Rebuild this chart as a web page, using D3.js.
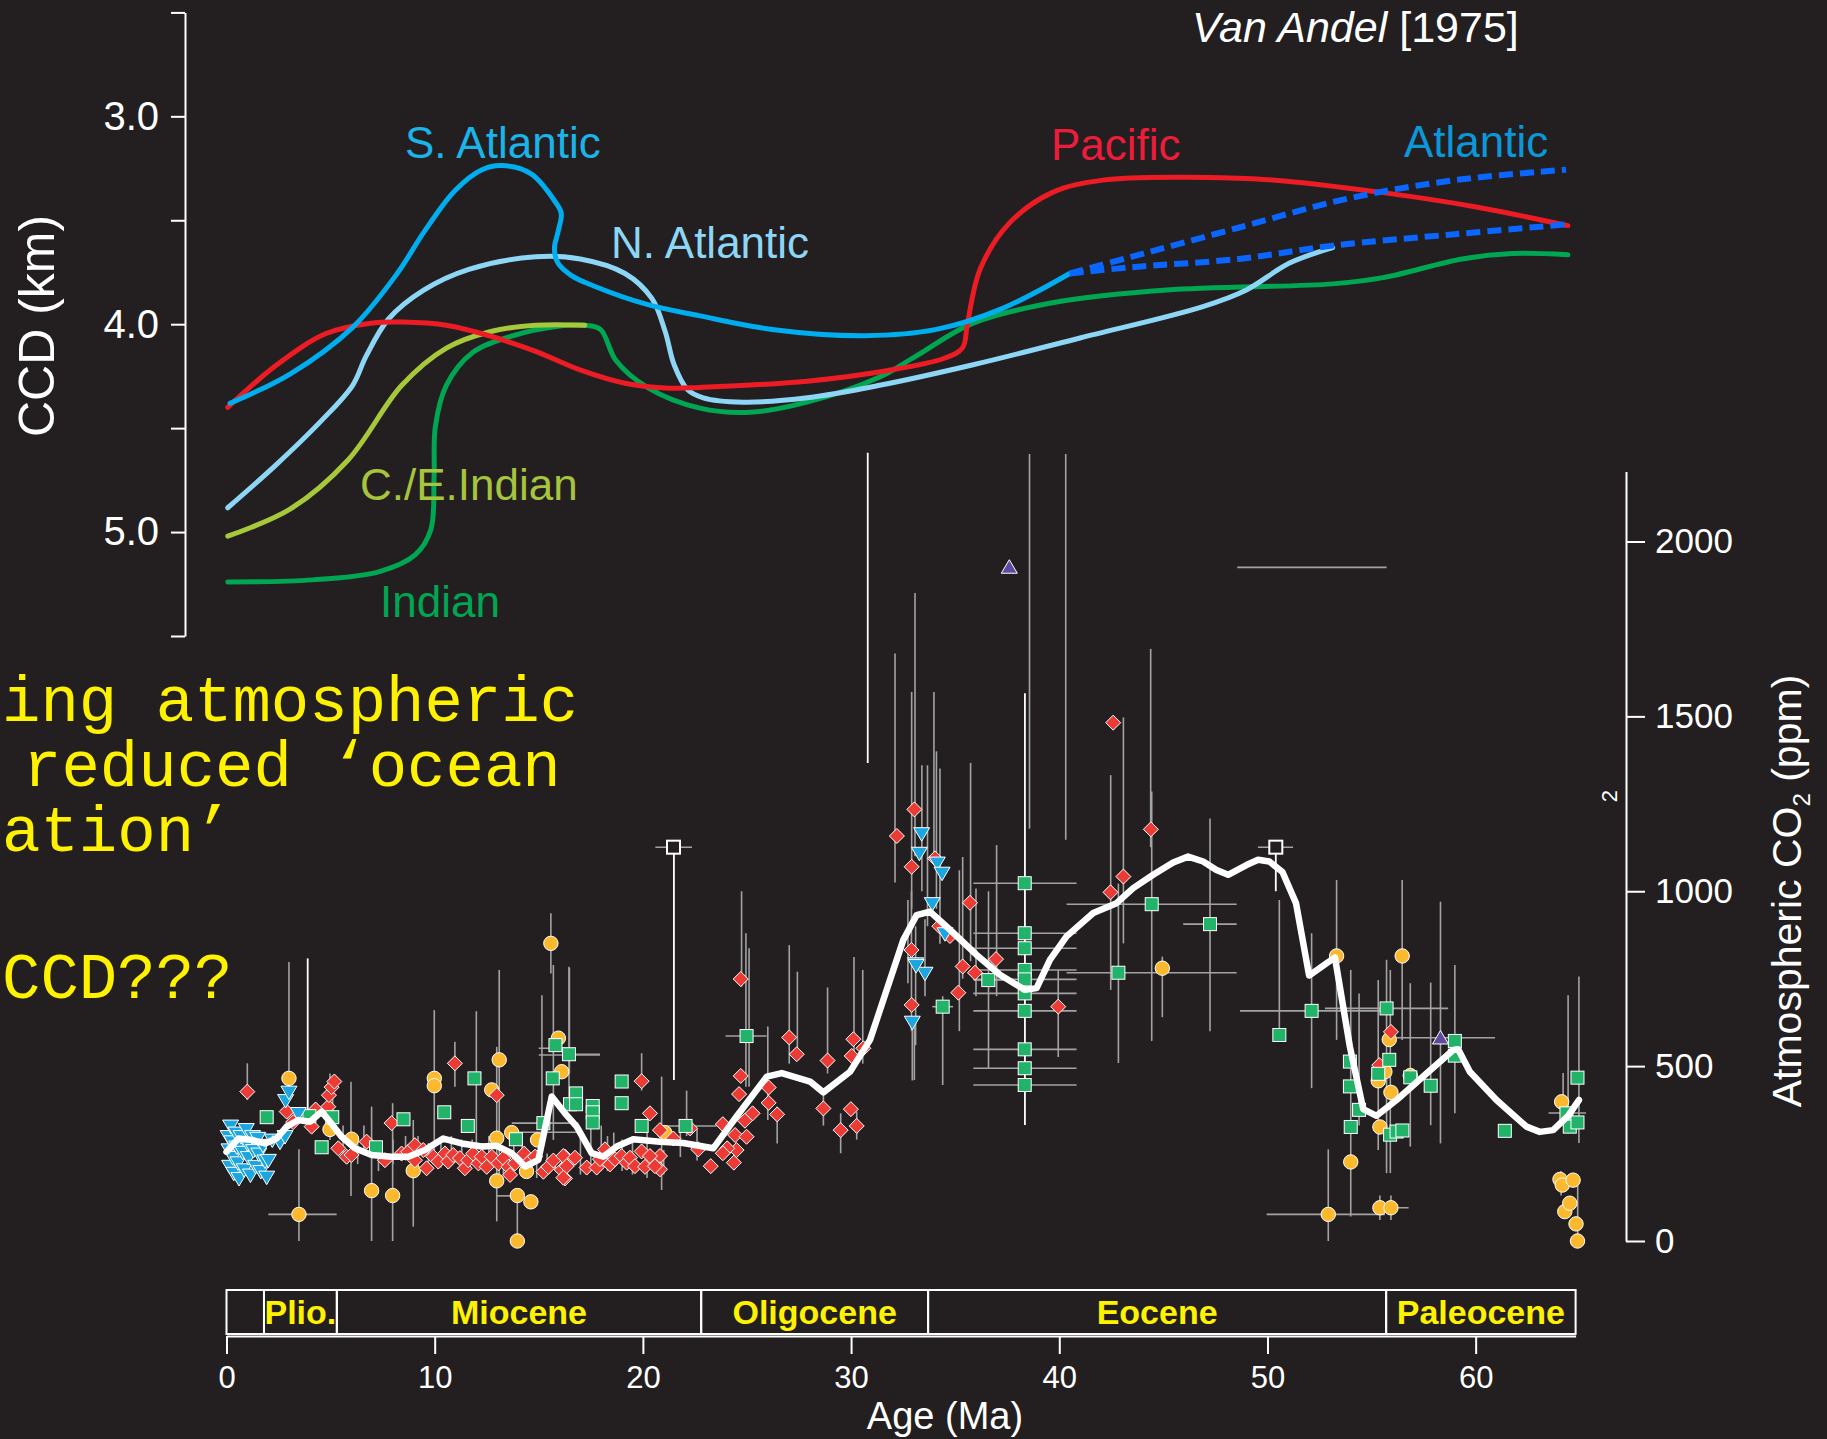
<!DOCTYPE html>
<html><head><meta charset="utf-8">
<script src="https://cdn.jsdelivr.net/npm/d3@7"></script>
<style>html,body{margin:0;padding:0;background:#231f20;}svg{display:block}</style>
</head><body>
<svg id="chart" width="1827" height="1439"></svg>
<script>
// ---------------- DATA ----------------
// CCD curves [age Ma, depth km]
const ccdSAtlantic = [[0.17,4.38],[3.05,4.24],[6.06,4.015],[8.2,3.756],[9.49,3.556],[10.98,3.357],[12.27,3.257],[13.24,3.237],[14.63,3.277],[15.82,3.416],[16.08,3.467],[15.92,3.557],[15.75,3.636],[15.92,3.706],[16.57,3.766],[17.64,3.816],[20.2,3.905],[22.74,3.96],[26.2,4.025],[30.67,4.055],[34.1,4.025],[37.25,3.925],[40.5,3.756]];
const ccdAtlanticUpper = [[40.5,3.756],[43.46,3.676],[48.6,3.536],[53.8,3.397],[58.99,3.307],[64.34,3.257]];
const ccdAtlanticLower = [[40.5,3.756],[43.45,3.726],[48.63,3.686],[53.13,3.622],[59.0,3.567],[64.34,3.52]];
const ccdPacific = [[0.06,4.40],[2.42,4.195],[4.78,4.045],[6.92,3.995],[8.42,3.99],[10.56,4.005],[12.7,4.058],[14.85,4.131],[16.98,4.22],[19.14,4.284],[21.28,4.308],[22.74,4.304],[27.9,4.274],[31.7,4.224],[34.48,4.164],[35.35,4.114],[35.59,3.995],[36.2,3.735],[37.58,3.516],[39.65,3.367],[42.08,3.307],[45.88,3.293],[50.36,3.307],[55.55,3.367],[60.03,3.436],[64.43,3.526]];
const ccdNAtlantic = [[0.06,4.883],[2.42,4.673],[4.56,4.464],[6.06,4.294],[6.7,4.155],[7.78,3.975],[9.49,3.835],[11.64,3.736],[14.85,3.676],[16.99,3.686],[19.14,3.756],[20.43,3.876],[21.07,4.035],[21.5,4.195],[22.14,4.314],[22.9,4.354],[24.8,4.375],[27.9,4.354],[31.37,4.294],[35.86,4.195],[41.04,4.065],[46.9,3.915],[48.99,3.835],[51.06,3.706],[53.13,3.632]];
const ccdCEIndian = [[0.06,5.02],[3.05,4.89],[5.84,4.653],[8.42,4.294],[10.56,4.115],[12.7,4.035],[14.85,4.005],[17.21,4.005]];
const ccdIndian = [[0.06,5.24],[4.13,5.23],[7.35,5.19],[9.06,5.11],[9.81,4.99],[9.97,4.733],[10.03,4.494],[10.56,4.294],[11.84,4.135],[13.78,4.055],[15.92,4.01],[17.21,4.005],[17.96,4.025],[18.71,4.175],[20.21,4.304],[22.74,4.404],[25.15,4.424],[27.92,4.374],[31.37,4.254],[33.1,4.155],[35.86,3.995],[40.0,3.891],[45.17,3.835],[53.13,3.806],[55.55,3.776],[59.35,3.686],[61.75,3.66],[64.43,3.666]];

// CO2 proxy points [age Ma, ppm]
const co2Triangles = [[0.08,300],[0.12,262],[0.15,215],[0.2,330],[0.25,285],[0.3,240],[0.35,195],[0.45,310],[0.5,270],[0.55,225],[0.6,180],[0.7,300],[0.78,255],[0.85,205],[0.95,320],[1.0,280],[1.05,240],[1.15,190],[1.25,300],[1.3,260],[1.4,215],[1.5,295],[1.55,250],[1.65,200],[1.75,275],[1.85,230],[1.93,184],[2.01,232],[2.2,290],[2.57,284],[2.81,300],[2.84,403],[3.0,427],[3.45,366],
  [33.39,1166],[33.28,1110],[34.14,1082],[34.37,1053],[33.9,966],[34.51,880],[33.1,794],[33.55,767],[32.94,627],[33.12,789]];
const co2Diamonds = [[1.0,427],[2.89,370],[3.2,340],[4.09,327],[4.28,376],[4.89,384],[4.92,417],[5.05,440],[5.18,456],[5.37,265],[5.77,241],[6.01,246],[6.73,284],[7.61,231],[7.93,337],[8.41,250],[8.73,255],[9.05,274],[9.05,231],[9.45,260],[9.61,208],[9.93,241],[10.17,227],[10.49,250],[10.65,227],[10.89,246],[10.97,508],[11.21,237],[11.45,208],[11.61,231],[11.85,250],[12.1,222],[12.26,241],[12.5,212],[12.74,241],[12.98,417],[13.06,222],[13.3,237],[13.54,212],[13.62,189],[13.86,222],[14.3,250],[14.6,230],[14.82,241],[15.22,198],[15.46,212],[15.7,230],[16.1,203],[16.26,241],[16.42,222],[16.26,179],
  [16.18,243],[16.34,214],[16.18,181],[16.74,238],[17.3,210],[17.78,210],[17.94,234],[18.18,262],[18.42,219],[18.66,234],[18.98,243],[19.22,224],[19.38,238],[19.62,214],[19.94,457],[20.34,365],[20.82,317],[19.94,256],[20.82,243],[20.82,205],[20.1,212],[20.34,243],[20.58,214],[21.46,293],[22.27,322],[22.66,262],[23.26,214],
  [23.84,334],[24.43,303],[24.7,472],[24.62,420],[24.98,298],[24.5,260],[24.37,224],[24.05,265],[23.84,251],[25.27,365],[24.9,344],[24.7,749],[26.04,439],[26.04,395],[26.45,362],[27.03,582],[27.39,534],[28.87,516],[28.67,379],[29.5,317],[29.99,377],[30.27,329],[30.11,577],[30.03,529],[30.59,551],
  [32.2,1158],[33.04,1234],[32.91,1070],[34.03,1094],[35.71,967],[32.9,832],[32.91,675],[34.24,900],[34.75,872],[35.36,785],[35.95,767],[36.96,806],[35.15,710],[39.95,670],[42.59,1482],[44.4,1177],[43.08,1042],[42.46,997],
  [55.93,598],[55.37,503]];
const co2Circles = [[3.0,465],[3.48,76],[4.97,319],[6.01,291],[6.97,144],[7.98,130],[8.97,201],[9.98,465],[9.98,444],[12.74,432],[12.98,294],[12.98,172],[13.1,518],[13.7,310],[13.97,130],[13.97,0],[14.41,199],[14.62,112],[14.94,289],[15.58,851],[15.94,580],[16.1,484],[21.05,310],[44.95,780],[52.92,76],[53.32,815],[54.0,226],[55.32,458],[55.4,326],[55.4,95],[55.64,484],[55.85,576],[55.93,425],[55.93,95],[56.47,815],[56.86,473],[64.05,176],[64.13,398],[64.16,160],[64.28,84],[64.52,108],[64.68,174],[64.82,49],[64.89,0]];
const co2Squares = [[1.93,354],[3.98,357],[4.57,268],[5.08,354],[7.18,268],[8.5,348],[10.46,368],[11.59,329],[11.91,465],[13.9,291],[15.22,337],[15.67,465],[15.8,560],[16.45,534],[16.5,391],[16.79,422],[16.79,391],[17.59,386],[17.59,368],[17.59,339],[18.98,456],[18.98,394],[19.94,329],[22.05,329],[24.98,586],[34.4,670],[36.59,746],[38.34,1023],[38.34,880],[38.34,837],[38.34,775],[38.34,748],[38.34,708],[38.34,658],[38.34,548],[38.34,494],[38.34,446],[42.84,767],[44.44,963],[47.24,906],[50.57,589],[52.12,658],[53.96,513],[53.96,442],[54.4,375],[54.0,326],[55.72,665],[55.85,518],[55.32,478],[55.89,304],[56.2,313],[56.48,316],[56.86,468],[57.84,444],[59.0,572],[59.0,530],[61.4,315],[64.36,365],[64.52,327],[64.89,467],[64.89,339]];
const co2Purple = [[37.6,1925],[58.31,579]];
const co2Open = [[21.47,1126],[50.4,1126]];

// LOESS fit [age, ppm]
const co2Loess = [[0.0,255],[0.57,293],[1.21,289],[1.85,279],[2.41,293],[2.89,327],[3.45,346],[4.01,341],[4.57,370],[4.97,341],[5.53,298],[6.17,265],[6.97,246],[7.93,241],[8.73,241],[9.53,260],[10.41,293],[11.3,279],[12.26,270],[12.98,272],[13.7,251],[14.34,213],[14.98,232],[15.62,413],[16.26,365],[16.82,327],[17.54,251],[18.1,241],[18.74,270],[19.54,291],[20.82,284],[21.94,280],[23.38,265],[24.5,356],[25.95,470],[26.67,480],[28.03,456],[28.67,425],[29.95,484],[30.91,575],[32.51,861],[33.15,932],[33.79,942],[34.75,890],[36.03,818],[37.15,761],[38.35,718],[38.91,723],[39.55,804],[40.35,871],[41.63,938],[42.75,966],[43.55,1009],[44.51,1047],[45.47,1082],[46.19,1099],[46.91,1085],[47.55,1061],[48.11,1047],[48.99,1075],[49.55,1090],[50.09,1085],[50.72,1055],[51.37,966],[52.0,759],[53.24,811],[53.96,555],[54.6,377],[55.24,358],[56.2,403],[57.64,479],[58.92,546],[59.16,548],[59.72,484],[61.0,403],[62.44,327],[63.08,312],[63.72,317],[64.44,358],[64.96,403]];

// error bars: vertical [age, ppmLow, ppmHigh], horizontal [ppm, ageLow, ageHigh]
const errVGray = [[1.0,403,508],[3.0,430,798],[3.48,0,262],[4.97,289,479],[5.1,350,470],[5.98,129,455],[6.97,0,384],[7.98,0,394],[8.97,41,346],[9.98,251,660],[10.97,441,570],[12.0,251,657],[13.1,184,775],[12.98,56,555],[13.97,0,144],[15.58,765,937],[15.7,289,789],[15.15,318,703],[16.45,384,784],[16.47,479,780],[24.74,727,1000],[24.95,441,880],[25.1,441,837],[27.03,507,846],[27.42,527,770],[28.87,479,725],[30.14,499,812],[30.56,507,775],[28.67,330,420],[29.5,251,365],[30.27,290,370],[26.45,279,384],[26.0,346,613],[19.94,430,537],[20.9,146,470],[22.1,300,430],[22.6,230,320],[32.73,737,975],[32.9,600,1000],[33.04,460,612],
  [32.11,1025,1680],[33.07,1100,1853],[32.91,950,1570],[33.98,1089,1570],[34.27,850,1351],[33.67,900,1360],[35.74,800,1367],[35.36,750,1098],[36.99,700,1132],[38.57,1179,2250],[40.31,1147,2250],[42.47,718,1332],[43.08,851,1497],[44.39,1126,1693],[47.24,600,1208],[44.44,572,1285],[42.84,509,1022],[44.95,640,813],[36.6,494,1000],[36.0,700,1008],[39.95,526,774],[34.4,446,700],[32.94,459,627],[33.4,1000,1360],[34.1,950,1400],[33.55,700,920],[33.1,560,900],[35.2,600,1060],
  [50.57,589,975],[52.12,437,880],[53.32,575,1032],[54.0,70,775],[54.4,330,708],[55.72,194,804],[55.9,194,775],[55.32,260,746],[56.47,575,1032],[56.86,270,737],[57.84,331,739],[58.31,279,970],[59.0,365,789],[64.2,330,480],[64.44,308,703],[64.96,280,756],[52.92,0,262],[64.9,0,190],[64.1,130,200],[55.4,60,130],[55.93,60,130],
  [5.6,230,330],[6.3,220,300],[6.6,260,330],[7.3,200,280],[8.0,220,290],[8.6,230,300],[9.2,200,300],[9.7,220,280],[10.3,210,290],[10.8,220,300],[11.3,200,290],[11.8,220,290],[12.3,210,280],[12.6,200,300],[13.3,190,270],[13.8,200,290],[14.2,230,300],[14.9,180,260],[15.4,190,250],[17.0,190,300],[17.5,200,320],[18.0,200,330],[18.3,200,300],[18.6,210,310],[19.0,200,290],[19.5,190,300],[20.2,180,310],[21.0,190,260],[21.8,240,330]];
const errVWhite = [[3.9,346,808],[21.49,460,1126],[38.35,332,1566],[30.8,1367,2254],[50.4,1000,1126]];
const errHGray = [[76,2.01,5.29],[551,15.0,16.5],[532,15.0,17.94],[337,13.7,16.9],[311,13.7,16.9],[586,23.97,25.94],[329,20.82,23.54],[129,12.98,13.97],[329,11.35,11.85],[670,33.9,34.9],[1023,35.87,40.83],[880,35.87,40.83],[837,35.87,40.83],[775,35.87,40.83],[748,35.87,40.83],[708,35.87,40.83],[658,35.87,40.83],[548,35.87,40.83],[494,35.87,40.83],[446,35.87,40.83],[963,40.35,48.52],[767,40.35,48.52],[906,45.95,48.52],[1926,48.55,55.72],[1126,20.6,22.36],[1126,49.54,51.23],[658,48.68,55.72],[665,52.76,58.68],[581,56.2,60.93],[76,49.96,55.64],[95,55.26,56.78],[366,63.5,65.3],[746,35.9,37.3],[534,16.45,17.94]];

// epochs
const epochNames = ["", "Plio.", "Miocene", "Oligocene", "Eocene", "Paleocene"];
const epochBounds = [0, 1.8, 5.3, 22.8, 33.7, 55.7, 64.8];
const ageTicks = [0, 10, 20, 30, 40, 50, 60];
const ccdTicks = [2.5, 3.0, 3.5, 4.0, 4.5, 5.0, 5.5];
const ccdLabeled = [3.0, 4.0, 5.0];
const co2Ticks = [0, 500, 1000, 1500, 2000];
const noteLines = ["ing atmospheric", "reduced \u2018ocean", "ation\u2019", "CCD???"];

// ---------------- DRAW ----------------
const W = 1827, H = 1439, BG = "#231f20";
const svg = d3.select("#chart");
svg.append("rect").attr("width", W).attr("height", H).attr("fill", BG);

const x = d3.scaleLinear().domain([0, 64.8]).range([226.5, 1575.6]);
const yCCD = d3.scaleLinear().domain([2.5, 5.5]).range([12.4, 636]);
const yCO2 = d3.scaleLinear().domain([0, 2200]).range([1241, 1241 - 2200 * 0.34975]);

const SANS = "'Liberation Sans', Arial, sans-serif";

// CCD axis
const gL = svg.append("g").attr("transform", "translate(185,0)")
  .call(d3.axisLeft(yCCD).tickValues(ccdTicks).tickSize(14).tickSizeOuter(0).tickPadding(12)
    .tickFormat(d => ccdLabeled.includes(d) ? d.toFixed(1) : ""));
gL.selectAll("path,line").attr("stroke", "#fff").attr("stroke-width", 2);
gL.selectAll("text").attr("fill", "#fff").style("font", "40px " + SANS);

svg.append("text").attr("transform", "translate(54,326) rotate(-90)").attr("text-anchor", "middle")
  .attr("fill", "#fff").style("font", "50px " + SANS).text("CCD (km)");

// curves
const ccdLine = d3.line().x(d => x(d[0])).y(d => yCCD(d[1])).curve(d3.curveCatmullRom.alpha(0.5));
function drawCurve(data, color, dash) {
  const p = svg.append("path").attr("d", ccdLine(data)).attr("fill", "none").attr("stroke", color)
    .attr("stroke-width", dash ? 6 : 5).attr("stroke-linecap", dash ? "butt" : "round");
  if (dash) p.attr("stroke-dasharray", "14,7");
}
drawCurve(ccdIndian, "#00a651");
drawCurve(ccdCEIndian, "#a6c83a");
drawCurve(ccdNAtlantic, "#8ed6f6");
drawCurve(ccdPacific, "#ed1c24");
drawCurve(ccdSAtlantic, "#00aeef");
drawCurve(ccdAtlanticUpper, "#0a66ff", true);
drawCurve(ccdAtlanticLower, "#0a66ff", true);

const curveLabels = [
  ["S. Atlantic", 405, 158, "#1ab4ea"], ["N. Atlantic", 611, 258, "#8ed6f6"], ["Pacific", 1051, 160, "#ed1c3a"],
  ["Atlantic", 1404, 157, "#0b98d8"], ["C./E.Indian", 360, 500, "#a6c43c"], ["Indian", 380, 617, "#00a651"]];
curveLabels.forEach(([t, lx, ly, c]) => svg.append("text").attr("x", lx).attr("y", ly).attr("fill", c)
  .style("font", "44px " + SANS).text(t));

const va = svg.append("text").attr("x", 1192).attr("y", 42).attr("fill", "#fff").style("font", "43px " + SANS);
va.append("tspan").style("font-style", "italic").text("Van Andel");
va.append("tspan").text(" [1975]");

// yellow note
const noteX = [2, 23, 2, 2], noteY = [721, 786, 851, 998];
noteLines.forEach((t, i) => svg.append("text").attr("x", noteX[i]).attr("y", noteY[i]).attr("fill", "#fff200")
  .style("font", "64px 'Liberation Mono', 'Courier New', monospace").text(t));

// CO2 axis
const gR = svg.append("g").attr("transform", "translate(1626,0)")
  .call(d3.axisRight(yCO2).tickValues(co2Ticks).tickSize(19).tickSizeOuter(0).tickPadding(10).tickFormat(d3.format("d")));
gR.selectAll("path,line").attr("stroke", "#fff").attr("stroke-width", 2);
gR.selectAll("text").attr("fill", "#fff").style("font", "35px " + SANS);
svg.append("text").attr("transform", "translate(1617,796) rotate(-90)").attr("text-anchor", "middle")
  .attr("fill", "#fff").style("font", "22px " + SANS).text("2");

const ylab = svg.append("text").attr("transform", "translate(1801,891) rotate(-90)").attr("text-anchor", "middle")
  .attr("fill", "#fff").style("font", "41px " + SANS);
ylab.append("tspan").text("Atmospheric CO");
ylab.append("tspan").attr("dy", 9).style("font-size", "24px").text("2");
ylab.append("tspan").attr("dy", -9).text(" (ppm)");

// error bars
const gE = svg.append("g");
gE.selectAll(".ev").data(errVGray).join("line").attr("x1", d => x(d[0])).attr("x2", d => x(d[0]))
  .attr("y1", d => yCO2(d[1])).attr("y2", d => yCO2(d[2])).attr("stroke", "#a3a3a3").attr("stroke-width", 1.6);
gE.selectAll(".eh").data(errHGray).join("line").attr("class", "eh").attr("y1", d => yCO2(d[0])).attr("y2", d => yCO2(d[0]))
  .attr("x1", d => x(d[1])).attr("x2", d => x(d[2])).attr("stroke", "#a3a3a3").attr("stroke-width", 1.6);
gE.selectAll(".ew").data(errVWhite).join("line").attr("class", "ew").attr("x1", d => x(d[0])).attr("x2", d => x(d[0]))
  .attr("y1", d => yCO2(d[1])).attr("y2", d => yCO2(d[2])).attr("stroke", "#ffffff").attr("stroke-width", 1.8);

// markers
const gM = svg.append("g").attr("stroke", "#fff").attr("stroke-width", 1);
gM.selectAll(".ci").data(co2Circles).join("circle").attr("class", "ci")
  .attr("cx", d => x(d[0])).attr("cy", d => yCO2(d[1])).attr("r", 7.2).attr("fill", "#fdb92e");
gM.selectAll(".di").data(co2Diamonds).join("path").attr("class", "di")
  .attr("transform", d => `translate(${x(d[0])},${yCO2(d[1])})`).attr("d", "M0,-7.5L7.5,0L0,7.5L-7.5,0Z").attr("fill", "#ec3a35");
gM.selectAll(".sq").data(co2Squares).join("rect").attr("class", "sq")
  .attr("x", d => x(d[0]) - 6.5).attr("y", d => yCO2(d[1]) - 6.5).attr("width", 13).attr("height", 13).attr("fill", "#22b36a");
gM.selectAll(".tr").data(co2Triangles).join("path").attr("class", "tr")
  .attr("transform", d => `translate(${x(d[0])},${yCO2(d[1])})`).attr("d", "M-8,-5.5L8,-5.5L0,8Z").attr("fill", "#1ba6df");
gM.selectAll(".pu").data(co2Purple).join("path").attr("class", "pu")
  .attr("transform", d => `translate(${x(d[0])},${yCO2(d[1])})`).attr("d", "M0,-8L8,5.5L-8,5.5Z").attr("fill", "#5e4ba0");
gM.selectAll(".op").data(co2Open).join("rect").attr("class", "op")
  .attr("x", d => x(d[0]) - 6.5).attr("y", d => yCO2(d[1]) - 6.5).attr("width", 13).attr("height", 13)
  .attr("fill", BG).attr("stroke-width", 2);

// LOESS
svg.append("path").attr("d", d3.line().x(d => x(d[0])).y(d => yCO2(d[1]))(co2Loess))
  .attr("fill", "none").attr("stroke", "#fff").attr("stroke-width", 6.5).attr("stroke-linejoin", "round").attr("stroke-linecap", "round");

// epoch bar
const gEp = svg.append("g");
epochNames.forEach((n, i) => {
  const a = x(epochBounds[i]), b = x(epochBounds[i + 1]);
  gEp.append("rect").attr("x", a).attr("y", 1290).attr("width", b - a).attr("height", 44)
    .attr("fill", "none").attr("stroke", "#fff").attr("stroke-width", 2);
  if (n) gEp.append("text").attr("x", (a + b) / 2).attr("y", 1324).attr("text-anchor", "middle")
    .attr("fill", "#fff200").style("font", "bold 34px " + SANS).text(n);
});

// age axis
const gB = svg.append("g").attr("transform", "translate(0,1336)")
  .call(d3.axisBottom(x).tickValues(ageTicks).tickSize(18).tickSizeOuter(0).tickPadding(12).tickFormat(d3.format("d")));
gB.selectAll("path,line").attr("stroke", "#fff").attr("stroke-width", 2);
gB.selectAll("text").attr("fill", "#fff").style("font", "31px " + SANS);
svg.append("text").attr("x", 945).attr("y", 1429).attr("text-anchor", "middle").attr("fill", "#fff")
  .style("font", "38px " + SANS).text("Age (Ma)");
</script>
</body></html>
